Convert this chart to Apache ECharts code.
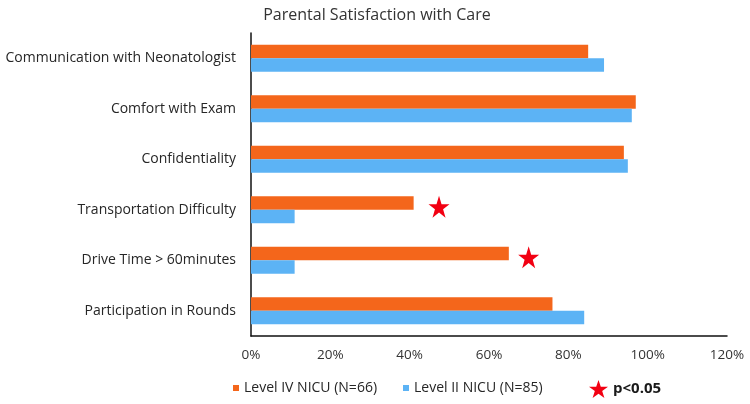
<!DOCTYPE html>
<html><head><meta charset="utf-8">
<script src="https://cdn.jsdelivr.net/npm/echarts@6/dist/echarts.min.js"></script>
<style>html,body{margin:0;padding:0;background:#fff}#c{width:750px;height:404px}</style>
</head><body><div id="c"></div>
<script>
const categories = ['Communication with Neonatologist','Comfort with Exam','Confidentiality','Transportation Difficulty','Drive Time > 60minutes','Participation in Rounds'];
const levelIV = [85, 97, 94, 41, 65, 76];
const levelII = [89, 96, 95, 11, 11, 84];
const starPoints = [[47.4, 'Transportation Difficulty'], [70, 'Drive Time > 60minutes']];
const xTicks = [0, 20, 40, 60, 80, 100, 120];

const FONT = '"Open Sans", "Noto Sans", sans-serif';
const STAR = 'path://M50,0 L61.8,35.4 L99,35.4 L69,57.3 L80.4,92.7 L50,70.8 L19.6,92.7 L31,57.3 L1,35.4 L38.2,35.4 Z';
const chart = echarts.init(document.getElementById('c'), null, {renderer: 'canvas'});
chart.setOption({
  animation: false,
  textStyle: {fontFamily: FONT},
  title: {text: 'Parental Satisfaction with Care', left: 372, textAlign: 'center', top: 2,
    textStyle: {fontFamily: FONT, fontSize: 16, fontWeight: 'normal', color: '#333'}},
  grid: {left: 251, right: 23, top: 33, bottom: 68},
  legend: [
    {data: ['Level IV NICU (N=66)', 'Level II NICU (N=85)'], left: 228, top: 376, itemWidth: 6, itemHeight: 6,
      itemGap: 26, icon: 'rect', textStyle: {fontFamily: FONT, fontSize: 14, color: '#262626'}},
    {data: [{name: 'p<0.05', icon: STAR, itemStyle: {color: '#F20012', borderWidth: 0, opacity: 1}}],
      left: 584, top: 375, itemWidth: 19, itemHeight: 19, itemGap: 6,
      textStyle: {fontFamily: FONT, fontSize: 15, fontWeight: 'bold', color: '#1a1a1a'}}
  ],
  xAxis: {type: 'value', min: 0, max: 120, interval: 20,
    axisLine: {show: true, lineStyle: {color: '#111', width: 1.5}},
    axisTick: {show: false}, splitLine: {show: false},
    axisLabel: {margin: 12, fontSize: 13.5, color: '#333', fontFamily: FONT,
      formatter: v => xTicks.includes(v) ? v + '%' : ''}},
  yAxis: {type: 'category', data: categories, inverse: true,
    axisLine: {show: true, lineStyle: {color: '#111', width: 1.5}},
    axisTick: {show: false},
    axisLabel: {margin: 15, fontSize: 14, color: '#262626', fontFamily: FONT}},
  series: [
    {name: 'Level IV NICU (N=66)', type: 'bar', data: levelIV, barWidth: 13.5, barGap: '0%',
      itemStyle: {color: '#F4661B'}},
    {name: 'Level II NICU (N=85)', type: 'bar', data: levelII, barWidth: 13.5, barGap: '0%',
      itemStyle: {color: '#5CB3F5'}},
    {name: 'p<0.05', type: 'scatter', data: starPoints, symbol: STAR,
      symbolSize: [21, 22], symbolOffset: [0, -3], itemStyle: {color: '#F20012', opacity: 1}}
  ]
});
</script></body></html>
